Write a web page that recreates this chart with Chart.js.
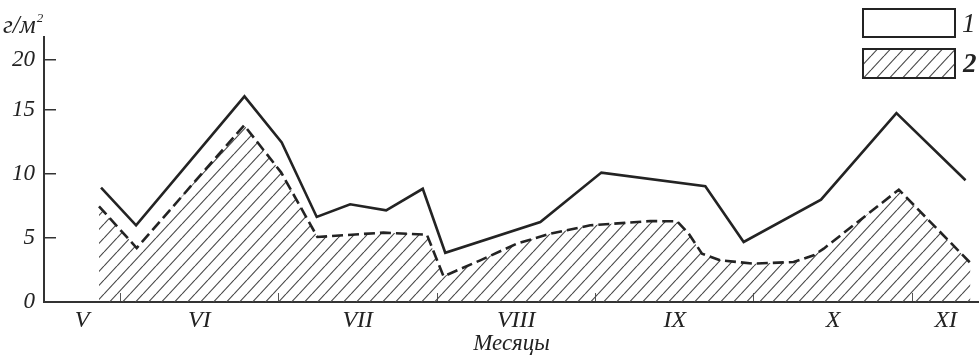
<!DOCTYPE html>
<html>
<head>
<meta charset="utf-8">
<script src="https://cdn.jsdelivr.net/npm/chart.js@4/dist/chart.umd.min.js"></script>
<style>
  html, body { margin: 0; padding: 0; background: #fff; }
  #wrap { width: 979px; height: 358px; position: relative; }
</style>
</head>
<body>
<div id="wrap"><canvas id="c" width="979" height="358"></canvas></div>
<script>
// Months on the x axis: value n marks the boundary where month n begins (VI = 6 ... XI = 11)
const monthLabels = ['V', 'VI', 'VII', 'VIII', 'IX', 'X', 'XI'];
const monthBounds = [6, 7, 8, 9, 10, 11];
const xRange = [5.52, 11.42];

// Biomass, g/m²
const yTicks = [0, 5, 10, 15, 20];
const yRange = [0, 22.26];

// Series 1 — total
const totalX = [5.880, 6.101, 6.785, 7.020, 7.241, 7.452, 7.679, 7.910, 8.052, 8.652, 9.037, 9.693, 9.935, 10.423, 10.899, 11.335];
const totalY = [8.92, 5.98, 16.33, 12.45, 6.63, 7.62, 7.15, 8.83, 3.84, 6.24, 10.09, 9.02, 4.68, 7.98, 14.73, 9.49];

// Series 2 — hatched part
const partX = [5.867, 6.105, 6.783, 7.016, 7.245, 7.662, 7.936, 8.041, 8.273, 8.504, 8.715, 8.967, 9.346, 9.515, 9.588, 9.672, 9.788, 9.998, 10.250, 10.377, 10.440, 10.914, 11.366];
const partY = [7.46, 4.21, 13.78, 10.11, 5.07, 5.41, 5.25, 2.00, 3.25, 4.55, 5.33, 5.98, 6.31, 6.29, 5.33, 3.77, 3.25, 2.99, 3.12, 3.64, 4.16, 8.76, 3.04];

const INK = '#232323';
const SERIF = "'Liberation Serif', 'DejaVu Serif', 'Times New Roman', serif";

// Value axis whose upper section (above 15) is drawn more compactly
const BREAK = 15, SQUEEZE = 0.78;
const warp = v => v <= BREAK ? v : BREAK + (v - BREAK) * SQUEEZE;
const unwarp = u => u <= BREAK ? u : BREAK + (u - BREAK) / SQUEEZE;
class WarpedScale extends Chart.LinearScale {
  getPixelForValue(value) {
    if (value === null || isNaN(value)) return NaN;
    const a = warp(this.min), b = warp(this.max);
    return this.getPixelForDecimal((warp(value) - a) / (b - a));
  }
  getValueForPixel(pixel) {
    const a = warp(this.min), b = warp(this.max);
    return unwarp(a + this.getDecimalForPixel(pixel) * (b - a));
  }
}
WarpedScale.id = 'warped';
WarpedScale.defaults = {};
Chart.register(WarpedScale);

// Month label positions: centre of each visible month span
const edges = [xRange[0], ...monthBounds, xRange[1]];
const labelPos = monthLabels.map((_, i) => (edges[i] + edges[i + 1]) / 2);
const labelAt = new Map(labelPos.map((p, i) => [p.toFixed(4), monthLabels[i]]));
const boundSet = new Set(monthBounds.map(b => b.toFixed(4)));

const canvas = document.getElementById('c');
const ctx = canvas.getContext('2d');

// Diagonal hatching tile
function makeHatch(c) {
  const W = 13, H = 14;
  const t = document.createElement('canvas');
  t.width = W; t.height = H;
  const g = t.getContext('2d');
  g.strokeStyle = '#474747';
  g.lineWidth = 1.1;
  for (const x0 of [-W, 0, W]) {
    g.beginPath();
    g.moveTo(x0, H);
    g.lineTo(x0 + W, 0);
    g.stroke();
  }
  return c.createPattern(t, 'repeat');
}
const hatch = makeHatch(ctx);

const extras = {
  id: 'extras',
  afterDraw(chart) {
    const g = chart.ctx;
    g.save();
    g.fillStyle = INK;
    g.textBaseline = 'alphabetic';
    g.textAlign = 'left';
    // unit label
    g.font = `italic 25px ${SERIF}`;
    g.fillText('г/м', 3, 33);
    const w = g.measureText('г/м').width;
    g.font = `italic 13px ${SERIF}`;
    g.fillText('2', 3 + w + 1, 22);
    // legend
    g.lineWidth = 2;
    g.strokeStyle = INK;
    g.fillStyle = '#fff';
    g.fillRect(863, 9, 92, 28);
    g.strokeRect(863, 9, 92, 28);
    g.fillStyle = '#fff';
    g.fillRect(863, 49, 92, 29);
    g.fillStyle = hatch;
    g.fillRect(863, 49, 92, 29);
    g.strokeRect(863, 49, 92, 29);
    g.fillStyle = INK;
    g.font = `italic 27px ${SERIF}`;
    g.fillText('1', 962, 32);
    g.font = `italic bold 27px ${SERIF}`;
    g.fillText('2', 963, 72);
    g.restore();
  }
};

new Chart(ctx, {
  type: 'line',
  data: {
    datasets: [
      {
        label: '1',
        data: totalX.map((x, i) => ({ x, y: totalY[i] })),
        borderColor: INK,
        borderWidth: 2.6,
        pointRadius: 0,
        fill: false,
        tension: 0
      },
      {
        label: '2',
        data: partX.map((x, i) => ({ x, y: partY[i] })),
        borderColor: INK,
        borderWidth: 2.6,
        borderDash: [11, 5],
        pointRadius: 0,
        fill: 'origin',
        backgroundColor: hatch,
        tension: 0
      }
    ]
  },
  options: {
    responsive: false,
    animation: false,
    devicePixelRatio: 1,
    layout: { padding: { top: 37, right: 0, left: 0, bottom: 0 } },
    plugins: {
      legend: { display: false },
      tooltip: { enabled: false }
    },
    scales: {
      x: {
        type: 'linear',
        min: xRange[0],
        max: xRange[1],
        afterBuildTicks: s => {
          s.ticks = [...monthBounds, ...labelPos].sort((a, b) => a - b).map(v => ({ value: v }));
        },
        afterFit: s => { s.height = 56; },
        ticks: {
          autoSkip: false,
          maxRotation: 0,
          padding: 13,
          color: INK,
          font: { family: SERIF, size: 24, style: 'italic' },
          callback: v => labelAt.get(Number(v).toFixed(4)) || ''
        },
        grid: {
          drawOnChartArea: false,
          drawTicks: true,
          tickLength: -9,
          lineWidth: 1,
          color: c => (c.tick && boundSet.has(Number(c.tick.value).toFixed(4))) ? '#555' : 'rgba(0,0,0,0)'
        },
        border: { color: '#333', width: 2 },
        title: {
          display: true,
          text: 'Месяцы',
          color: INK,
          font: { family: SERIF, size: 23, style: 'italic' },
          padding: { top: 0, bottom: 0 }
        }
      },
      y: {
        type: 'warped',
        min: yRange[0],
        max: yRange[1],
        afterBuildTicks: s => { s.ticks = yTicks.map(v => ({ value: v })); },
        afterFit: s => { s.width = 44; },
        ticks: {
          padding: 21,
          color: INK,
          font: { family: SERIF, size: 23, style: 'italic' },
          callback: v => String(v)
        },
        grid: {
          drawOnChartArea: false,
          drawTicks: true,
          tickLength: -12,
          lineWidth: 1.5,
          color: '#333'
        },
        border: { color: '#333', width: 2 }
      }
    }
  },
  plugins: [extras]
});
</script>
</body>
</html>
